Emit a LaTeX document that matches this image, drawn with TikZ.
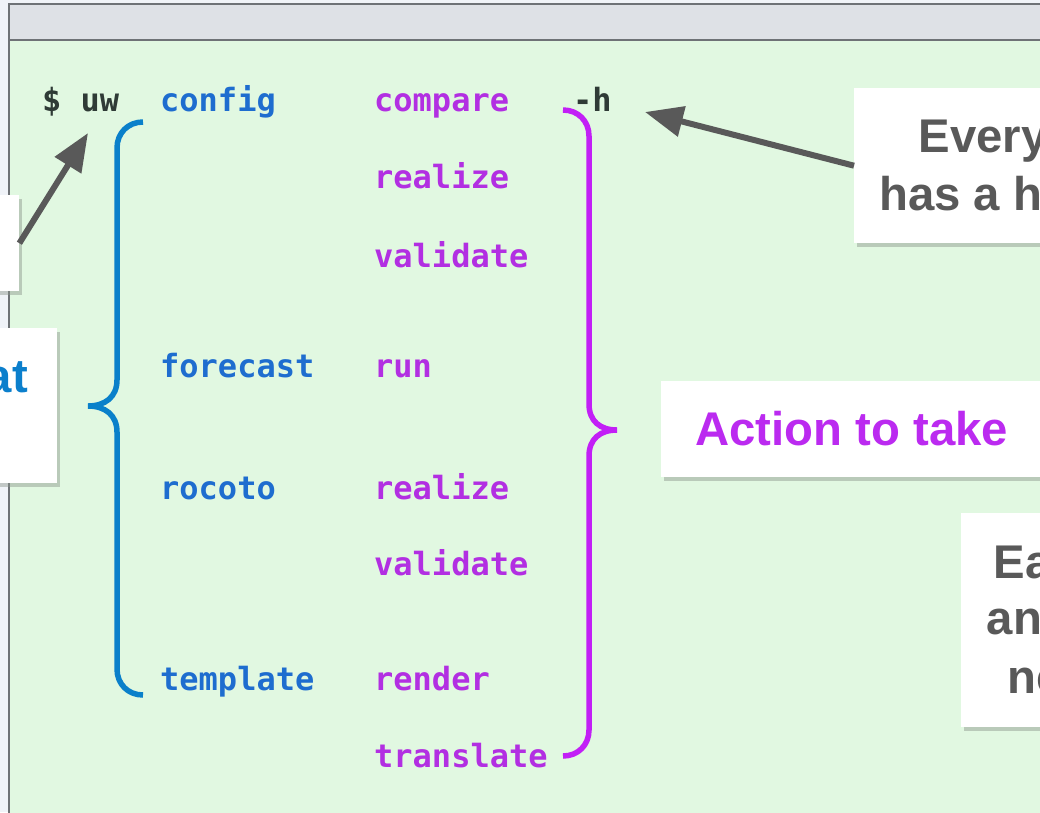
\documentclass[tikz,border=0pt]{standalone}
\usepackage{fontspec}
\setmainfont{Liberation Sans}
\newfontfamily\codefont{DejaVu Sans Mono}
\usetikzlibrary{arrows.meta,shadows}

\definecolor{bggreen}{HTML}{E1F8E1}
\definecolor{bargray}{HTML}{DEE1E6}
\definecolor{framegray}{HTML}{6E7276}
\definecolor{outside}{HTML}{F0F3F8}
\definecolor{cmdblue}{HTML}{1E6DCF}
\definecolor{bracblue}{HTML}{0A80CA}
\definecolor{actpurple}{HTML}{B22FE2}
\definecolor{bracpurple}{HTML}{C21FF6}
\definecolor{labpurple}{HTML}{BB2AF0}
\definecolor{labblue}{HTML}{0B7FCC}
\definecolor{darktxt}{HTML}{2F3B36}
\definecolor{arrgray}{HTML}{595959}
\definecolor{shadowgray}{HTML}{8A948A}

\begin{document}
\begin{tikzpicture}[x=1pt,y=-1pt,
 code/.style={font=\codefont\bfseries\fontsize{32}{38}\selectfont, anchor=base west, inner sep=0pt},
 cmd/.style={code,text=cmdblue},
 act/.style={code,text=actpurple},
 plain/.style={code,text=darktxt},
 callout/.style={fill=white, draw=none, inner sep=0pt, anchor=north west,
   drop shadow={shadow xshift=2.5pt, shadow yshift=-4pt, opacity=0.45, fill=shadowgray}},
 lab/.style={font=\bfseries\fontsize{47.3}{58}\selectfont, anchor=base west, inner sep=0pt},
 arr/.style={draw=arrgray, fill=arrgray, line width=6pt, -{Triangle[length=38pt,width=30pt]}},
 bracepath/.style={line width=5.5pt}
]
\useasboundingbox (0,0) rectangle (1040,812);
\clip (0,0) rectangle (1040,812);

% window
\fill[outside] (0,0) rectangle (1040,812);
\fill[bggreen] (9,40) rectangle (1050,820);
\fill[bargray] (9,4) rectangle (1050,40);
\draw[framegray, line width=1.5pt] (1050,4) -- (9,4) -- (9,820);
\draw[framegray, line width=1.5pt] (9,40) -- (1050,40);

% command text
\node[plain] (prompt) at (42,111) {\$ uw};
\node[cmd] (config) at (160,111) {config};
\node[act] (compare) at (374,111) {compare};
\node[plain] (help) at (573,111) {-h};
\node[act] (crealize) at (374,188) {realize};
\node[act] (cvalidate) at (374,267) {validate};
\node[cmd] (forecast) at (160,377) {forecast};
\node[act] (run) at (374,377) {run};
\node[cmd] (rocoto) at (160,499) {rocoto};
\node[act] (rrealize) at (374,499) {realize};
\node[act] (rvalidate) at (374,575) {validate};
\node[cmd] (template) at (160,690) {template};
\node[act] (render) at (374,690) {render};
\node[act] (translate) at (374,767) {translate};

% braces
\draw[bracepath, bracblue] (143,122) .. controls (128,122) and (117,133) .. (117,148)
  -- (117,380) .. controls (117,397) and (105,406) .. (88,406)
  .. controls (105,406) and (117,415) .. (117,432)
  -- (117,669) .. controls (117,684) and (128,695) .. (143,695);
\draw[bracepath, bracpurple] (563,110) .. controls (578,110) and (589,121) .. (589,136)
  -- (589,404) .. controls (589,421) and (600,430) .. (617,430)
  .. controls (600,430) and (589,439) .. (589,456)
  -- (589,730) .. controls (589,745) and (578,756) .. (563,756);

% callout boxes
\node[callout, minimum width=119pt, minimum height=96pt] (b1) at (-100,195) {};
\node[callout, minimum width=257pt, minimum height=155pt] (b3) at (-200,328) {};
\node[callout, minimum width=346pt, minimum height=155pt] (b2) at (854,88) {};
\node[callout, minimum width=539pt, minimum height=96pt] (b4) at (661,381) {};
\node[callout, minimum width=239pt, minimum height=214pt] (b5) at (961,513) {};

% labels
\node[lab, text=labblue, anchor=base east] (tat) at (28,392) {at};
\node[lab, text=arrgray] (tev) at (918.5,152) {Every};
\node[lab, text=arrgray] (tha) at (879,210) {has a h};
\node[lab, text=labpurple] (tact) at (695,445) {Action to take};
\node[lab, text=arrgray] (tea) at (993.5,578) {Ea};
\node[lab, text=arrgray] (tan) at (986.5,634) {an};
\node[lab, text=arrgray] (tne) at (1007,693) {ne};

% arrows
\coordinate (uwpt) at (88,133);
\coordinate (hpt) at (645,112);
\draw[arr] (b1.east) -- (uwpt);
\draw[arr] (b2.west) -- (hpt);
\end{tikzpicture}
\end{document}
